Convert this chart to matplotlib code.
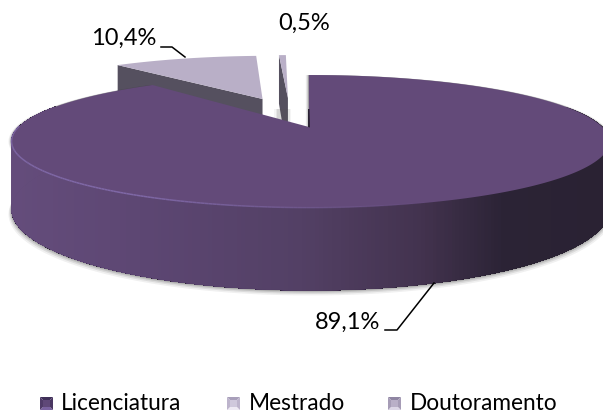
import numpy as np
import matplotlib.pyplot as plt
from matplotlib.colors import LinearSegmentedColormap
from matplotlib.patches import Polygon

categories = ["Licenciatura", "Mestrado", "Doutoramento"]
shares = [89.1, 10.4, 0.5]
share_labels = ["89,1%", "10,4%", "0,5%"]

plt.rcParams["font.family"] = ["Lato", "DejaVu Sans"]

# Disk projection, in pixels
x0, y0 = 310.5, 127.0
a_u, b_v = 291.8, 63.3
persp = 0.218
depth = 64.5


def project(u, v):
    w = 1 + persp * v
    return x0 + a_u * u / w, y0 - b_v * v / w


def drop(u, v):
    return depth / (1 + persp * v)


def arc(start, end, eu=0.0, ev=0.0, n=240):
    th = np.radians(np.linspace(start, end, n))
    return np.sin(th) + eu, np.cos(th) + ev


fig = plt.figure(figsize=(6.03, 4.12), dpi=100)
ax = fig.add_axes([0, 0, 1, 1])

angles = np.cumsum([0] + [s * 3.6 for s in shares])
face_cols = ["#634a79", "#b9afc7", "#b9afc7"]
cut_col = "#55505f"

# Exploded small slices go behind the large one
small = [(1, -0.182, 0.49, -1.9), (2, -0.086, 0.51, -1.5)]
for i, eu, ev, rot in small[::-1]:
    u, v = arc(angles[i] + rot, angles[i + 1] + rot, eu, ev, 60)
    x, y = project(u, v)
    ax_, ay_ = project(eu, ev)
    # cut face on the left edge of the slice
    cut = [
        (x[0], y[0]),
        (ax_, ay_),
        (ax_, ay_ + drop(eu, ev)),
        (x[0], y[0] + drop(u[0], v[0])),
    ]
    ax.add_patch(Polygon(cut, closed=True, fc=cut_col, ec="none", zorder=2))
    pts = np.column_stack([np.r_[ax_, x], np.r_[ay_, y]])
    ax.add_patch(Polygon(pts, closed=True, fc=face_cols[i], ec="none", zorder=3))

# Soft grey blur near the small slices
for grow, alpha in [(4, 0.06), (2.5, 0.09), (1, 0.12)]:
    ax.add_patch(
        Polygon(
            [(278 - grow, 109), (287 + grow, 109), (287 + grow, 125), (278 - grow, 125)],
            closed=True, fc="#555555", ec="none", alpha=alpha, zorder=3.5,
        )
    )

# Large slice
u, v = arc(angles[0] - 0.4, angles[1], n=480)
x, y = project(u, v)
low = y + drop(u, v)

# Shadow under the wall
for off, alpha in [(5, 0.08), (3.5, 0.12), (2.2, 0.16), (1, 0.26)]:
    sh = np.column_stack([np.r_[x, x[::-1]], np.r_[y, (low + off)[::-1]]])
    sh[:, 0] = np.where(sh[:, 0] < x0, sh[:, 0] - off * 0.6, sh[:, 0] + off * 0.6)
    ax.add_patch(Polygon(sh, closed=True, fc="#444444", ec="none", alpha=alpha, zorder=4))

# Outer wall, horizontal gradient. Each band runs on to the left end of the
# wall and the next one paints over it, so there are no seams
wall_cmap = LinearSegmentedColormap.from_list(
    "wall",
    [
        (0.0, "#654d7c"),
        (0.25, "#5c4672"),
        (0.5, "#534065"),
        (0.7, "#43334f"),
        (0.84, "#2b2335"),
        (1.0, "#2a2233"),
    ],
)
idx = np.where(v < 0.35)[0]
for j in range(len(idx) - 1):
    run = idx[j:]
    band = np.column_stack([np.r_[x[run], x[run][::-1]], np.r_[y[run], low[run][::-1]]])
    col = wall_cmap(np.clip(x[run[0]] / 603, 0, 1))
    ax.add_patch(Polygon(band, closed=True, fc=col, ec="none", zorder=5))

# Top face
top = np.column_stack([np.r_[x0 - 1.5, x], np.r_[y0, y]])
ax.add_patch(Polygon(top, closed=True, fc=face_cols[0], ec="none", zorder=6))

# Dark sliver at the vertical edge of the large slice
ax.add_patch(
    Polygon(
        [(x0 - 2.5, y0), (x0 - 2.5, y0 - 18), (x0 - 1, y0 - 18), (x0 - 0.5, y0 + 0.5)],
        closed=True, fc="#2a2233", ec="none", zorder=6.5,
    )
)

# Light rim fading out to the right
for j in range(len(x) - 1):
    if v[j] < 0.0 and x[j] < 440:
        fade = np.clip((440 - x[j]) / 300, 0, 1)
        ax.plot(x[j : j + 2], y[j : j + 2] - 0.3, color="#7f68a6", lw=1.1, alpha=fade,
                solid_capstyle="butt", zorder=7)

# Data labels and leaders
ax.text(348, 322, share_labels[0], ha="center", va="center", fontsize=17, color="black")
ax.text(124, 38, share_labels[1], ha="center", va="center", fontsize=17, color="black")
ax.text(304, 23, share_labels[2], ha="center", va="center", fontsize=17, color="black")
ax.plot([385, 397, 434], [330, 330, 283], color="black", lw=1.1, zorder=8)
ax.plot([161, 172, 185], [47, 47, 57], color="black", lw=1.1, zorder=8)

# Legend with bevelled keys
key_x = [40, 227, 388]
text_x = [61, 249, 410]
key_tones = [
    ("#5f4878", "#3f2f58", "#7a62a0", "#4f3b68", "#4a3762"),
    ("#cfc8dc", "#a89fba", "#eeeaf4", "#bdb4cc", "#bdb4cc"),
    ("#b9afc7", "#8f85a2", "#dcd6e6", "#a69cb6", "#a69cb6"),
]
for name, kx, tx, tones in zip(categories, key_x, text_x, key_tones):
    s, ky = 13, 397
    inner = 3
    tris = [
        ([(kx, ky), (kx + s, ky), (kx + s - inner, ky + inner), (kx + inner, ky + inner)], tones[1]),
        ([(kx, ky + s), (kx + s, ky + s), (kx + s - inner, ky + s - inner), (kx + inner, ky + s - inner)], tones[2]),
        ([(kx, ky), (kx, ky + s), (kx + inner, ky + s - inner), (kx + inner, ky + inner)], tones[3]),
        ([(kx + s, ky), (kx + s, ky + s), (kx + s - inner, ky + s - inner), (kx + s - inner, ky + inner)], tones[4]),
        ([(kx + inner, ky + inner), (kx + s - inner, ky + inner), (kx + s - inner, ky + s - inner), (kx + inner, ky + s - inner)], tones[0]),
    ]
    for pts, col in tris:
        ax.add_patch(Polygon(pts, closed=True, fc=col, ec="none", zorder=8))
    ax.text(tx, 403, name, ha="left", va="center", fontsize=16.3, color="black")

ax.set_xlim(0, 603)
ax.set_ylim(412, 0)
ax.axis("off")

fig.savefig("out.png", dpi=100)
